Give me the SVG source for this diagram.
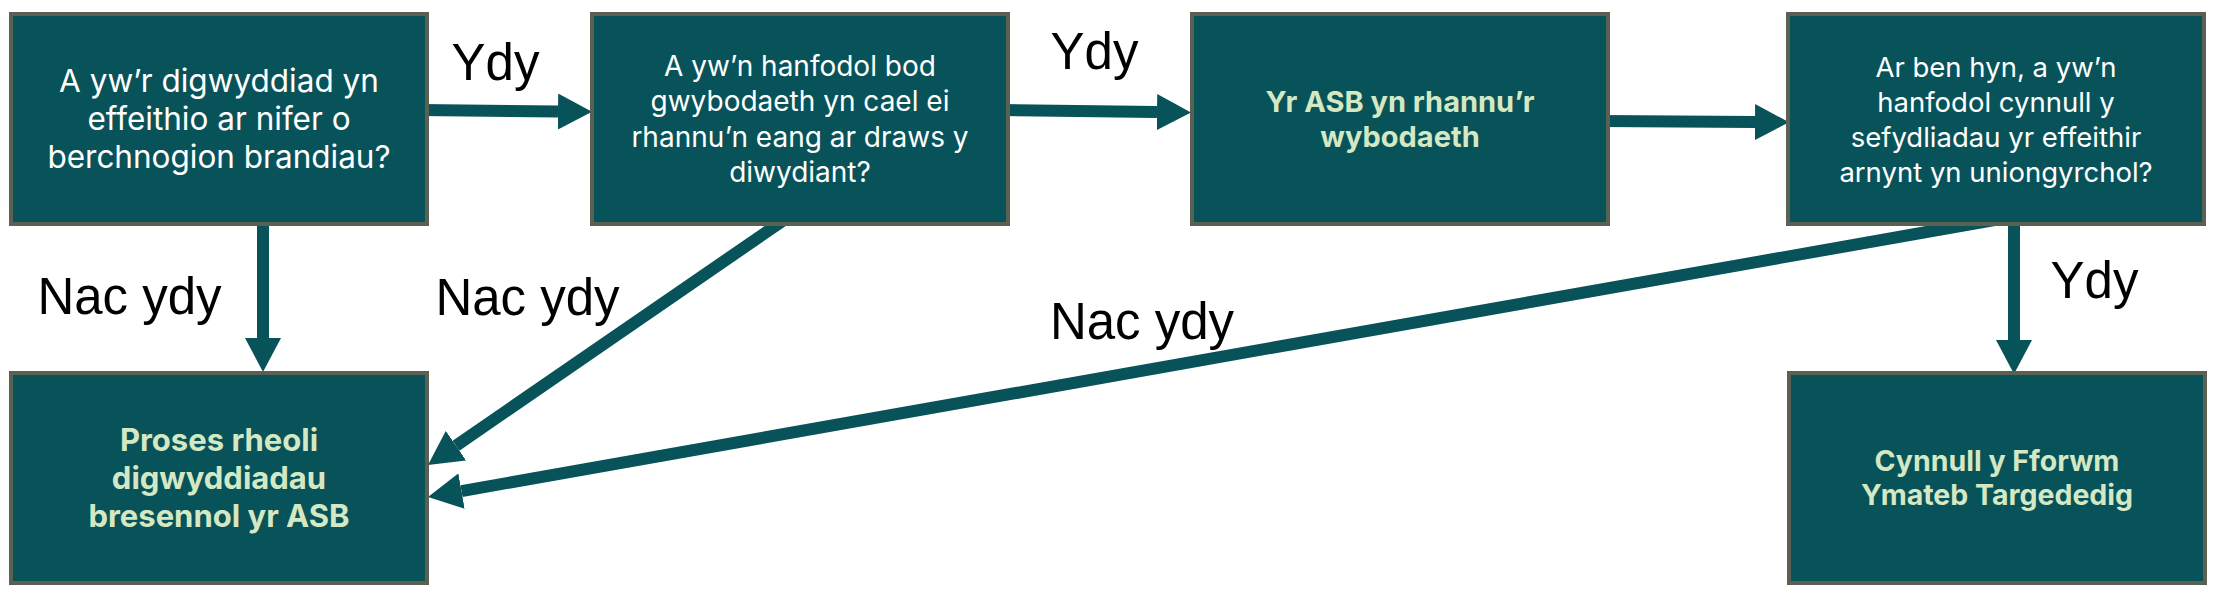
<svg xmlns="http://www.w3.org/2000/svg" width="2220" height="598" viewBox="0 0 2220 598">
  <style>
    .box { fill: #08535a; stroke: #5a6152; stroke-width: 4; }
    .q { font-family: Inter, "Liberation Sans", sans-serif; fill: #ffffff; text-anchor: middle; }
    .r { font-family: Inter, "Liberation Sans", sans-serif; font-weight: bold; fill: #d5e8c4; text-anchor: middle; }
    .lbl { font-family: "Liberation Sans", Arial, sans-serif; font-size: 51px; fill: #000000; text-anchor: middle; }
    .conn { stroke: #08535a; stroke-width: 12; fill: none; stroke-linecap: butt; }
  </style>
  <defs>
    <marker id="ah" markerUnits="userSpaceOnUse" markerWidth="36" markerHeight="36" refX="0" refY="18" orient="auto">
      <path d="M0,0 L34,18 L0,36 z" fill="#08535a"/>
    </marker>
  </defs>

  <g id="connectors">
    <line class="conn" x1="420" y1="110" x2="558" y2="111.5" marker-end="url(#ah)"/>
    <line class="conn" x1="1002" y1="110" x2="1157" y2="112" marker-end="url(#ah)"/>
    <line class="conn" x1="1600" y1="121" x2="1755" y2="122" marker-end="url(#ah)"/>
    <line class="conn" x1="263" y1="216" x2="263" y2="338" marker-end="url(#ah)"/>
    <line class="conn" x1="794.5" y1="212.7" x2="456" y2="445.7" marker-end="url(#ah)"/>
    <line class="conn" x1="2017" y1="216" x2="461.5" y2="491.1" marker-end="url(#ah)"/>
    <line class="conn" x1="2014" y1="216" x2="2014" y2="340" marker-end="url(#ah)"/>
  </g>

  <g id="node-q1">
    <rect class="box" x="11" y="14" width="416" height="210"/>
    <text class="q" font-size="31.5"><tspan x="219" y="92">A yw’r digwyddiad yn</tspan><tspan x="219" y="130">effeithio ar nifer o</tspan><tspan x="219" y="168">berchnogion brandiau?</tspan></text>
  </g>
  <g id="node-q2">
    <rect class="box" x="592" y="14" width="416" height="210"/>
    <text class="q" font-size="28"><tspan x="800" y="76">A yw’n hanfodol bod</tspan><tspan x="800" y="111">gwybodaeth yn cael ei</tspan><tspan x="800" y="147">rhannu’n eang ar draws y</tspan><tspan x="800" y="182">diwydiant?</tspan></text>
  </g>
  <g id="node-share">
    <rect class="box" x="1192" y="14" width="416" height="210"/>
    <text class="r" font-size="29"><tspan x="1400" y="112">Yr ASB yn rhannu’r</tspan><tspan x="1400" y="147">wybodaeth</tspan></text>
  </g>
  <g id="node-q3">
    <rect class="box" x="1788" y="14" width="416" height="210"/>
    <text class="q" font-size="27.5"><tspan x="1996" y="77">Ar ben hyn, a yw’n</tspan><tspan x="1996" y="112">hanfodol cynnull y</tspan><tspan x="1996" y="147">sefydliadau yr effeithir</tspan><tspan x="1996" y="182">arnynt yn uniongyrchol?</tspan></text>
  </g>
  <g id="node-process">
    <rect class="box" x="11" y="373" width="416" height="210"/>
    <text class="r" font-size="31"><tspan x="219" y="451">Proses rheoli</tspan><tspan x="219" y="489">digwyddiadau</tspan><tspan x="219" y="527">bresennol yr ASB</tspan></text>
  </g>
  <g id="node-forum">
    <rect class="box" x="1789" y="373" width="416" height="210"/>
    <text class="r" font-size="28.5"><tspan x="1997" y="471">Cynnull y Fforwm</tspan><tspan x="1997" y="505">Ymateb Targededig</tspan></text>
  </g>

  <g id="labels">
    <text class="lbl" x="495.5" y="80">Ydy</text>
    <text class="lbl" x="1094.5" y="69">Ydy</text>
    <text class="lbl" x="2094.5" y="298">Ydy</text>
    <text class="lbl" x="129.5" y="314">Nac ydy</text>
    <text class="lbl" x="527.5" y="315">Nac ydy</text>
    <text class="lbl" x="1142" y="339">Nac ydy</text>
  </g>
</svg>
